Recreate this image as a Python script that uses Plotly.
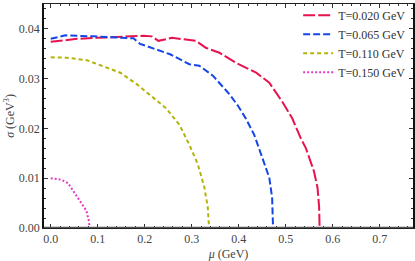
import plotly.graph_objects as go

# T = 0.020 GeV
mu_t020 = [0, 0.056, 0.098, 0.148, 0.197, 0.215, 0.229, 0.258, 0.309, 0.33, 0.359, 0.394, 0.415,
           0.437, 0.465, 0.493, 0.514, 0.532, 0.543, 0.56, 0.5676, 0.571, 0.572, 0.77]
sig_t020 = [0.0374, 0.0380, 0.0382, 0.0384, 0.0386, 0.0385, 0.0376, 0.0382, 0.0376, 0.0362, 0.0352,
            0.0332, 0.0322, 0.0312, 0.0292, 0.0253, 0.0220, 0.0180, 0.0160, 0.0114, 0.0081, 0.0042, 0, 0]
# T = 0.065 GeV
mu_t065 = [0, 0.031, 0.091, 0.155, 0.176, 0.19, 0.219, 0.254, 0.295, 0.316, 0.345, 0.359, 0.38,
           0.398, 0.415, 0.433, 0.451, 0.465, 0.471, 0.473, 0.77]
sig_t065 = [0.0380, 0.0387, 0.0385, 0.0383, 0.0381, 0.0370, 0.0360, 0.0349, 0.0329, 0.0326, 0.0306,
            0.0292, 0.0269, 0.0246, 0.0220, 0.0187, 0.0141, 0.0101, 0.0061, 0, 0]
# T = 0.110 GeV
mu_t110 = [0, 0.035, 0.077, 0.1125, 0.148, 0.183, 0.219, 0.246, 0.274, 0.295, 0.313, 0.327, 0.334, 0.337, 0.77]
sig_t110 = [0.0343, 0.0342, 0.0337, 0.0324, 0.0312, 0.0289, 0.0262, 0.0240, 0.0207, 0.0167, 0.0128,
            0.0081, 0.0042, 0, 0]
# T = 0.150 GeV
mu_t150 = [0, 0.0225, 0.037, 0.051, 0.065, 0.0757, 0.081, 0.083, 0.77]
sig_t150 = [0.0100, 0.0097, 0.0090, 0.0071, 0.0051, 0.0035, 0.0015, 0, 0]

labels = ["T=0.020 GeV", "T=0.065 GeV", "T=0.110 GeV", "T=0.150 GeV"]
xticks = [0.0, 0.1, 0.2, 0.3, 0.4, 0.5, 0.6, 0.7]
yticks = [0.00, 0.01, 0.02, 0.03, 0.04]

series = [
    (mu_t020, sig_t020, "#E8124C", "12px,3px"),
    (mu_t065, sig_t065, "#1446E6", "7px,3px"),
    (mu_t110, sig_t110, "#B4B30A", "4px,3px"),
    (mu_t150, sig_t150, "#E23CC0", "2px,2px"),
]

fig = go.Figure()
for (x, y, c, d), name in zip(series, labels):
    fig.add_trace(go.Scatter(x=x, y=y, mode="lines", name=name,
                             line=dict(color=c, dash=d, width=2)))

serif = "Liberation Serif, Times New Roman, serif"
fig.update_layout(
    width=415, height=261,
    margin=dict(l=44, r=2, t=1, b=33),
    paper_bgcolor="white", plot_bgcolor="white",
    font=dict(family=serif, size=12, color="#444"),
    legend=dict(x=0.995, y=1.015, xanchor="right", yanchor="top",
                bgcolor="rgba(0,0,0,0)", font=dict(size=12, color="#333"),
                tracegroupgap=0),
    xaxis=dict(range=[-0.0143, 0.7707], tickvals=xticks,
               ticktext=[f"{v:.1f}" for v in xticks],
               ticks="inside", ticklen=4, tickcolor="#333",
               minor=dict(ticks="inside", ticklen=2, dtick=0.02, tickcolor="#333"),
               showline=True, linecolor="#222", linewidth=1, mirror="allticks",
               showgrid=False, zeroline=False,
               title=dict(text="<i>μ</i> (GeV)", standoff=4, font=dict(size=12, color="#444"))),
    yaxis=dict(range=[0, 0.045], tickvals=yticks,
               ticktext=[f"{v:.2f}" for v in yticks],
               ticks="inside", ticklen=4, tickcolor="#333",
               minor=dict(ticks="inside", ticklen=2, dtick=0.002, tickcolor="#333"),
               showline=True, linecolor="#111", linewidth=1.5, mirror="allticks",
               showgrid=False, zeroline=False,
               title=dict(text="<i>σ</i> (GeV<sup>3</sup>)", standoff=2, font=dict(size=12, color="#444"))),
    shapes=[dict(type="line", xref="paper", yref="y", x0=0, x1=1, y0=0, y1=0,
                 line=dict(color="#555", width=2.5))],
)

fig.write_html("out.html", config={"displayModeBar": False},
               post_script="document.body.style.margin='0';document.body.style.padding='0';")
